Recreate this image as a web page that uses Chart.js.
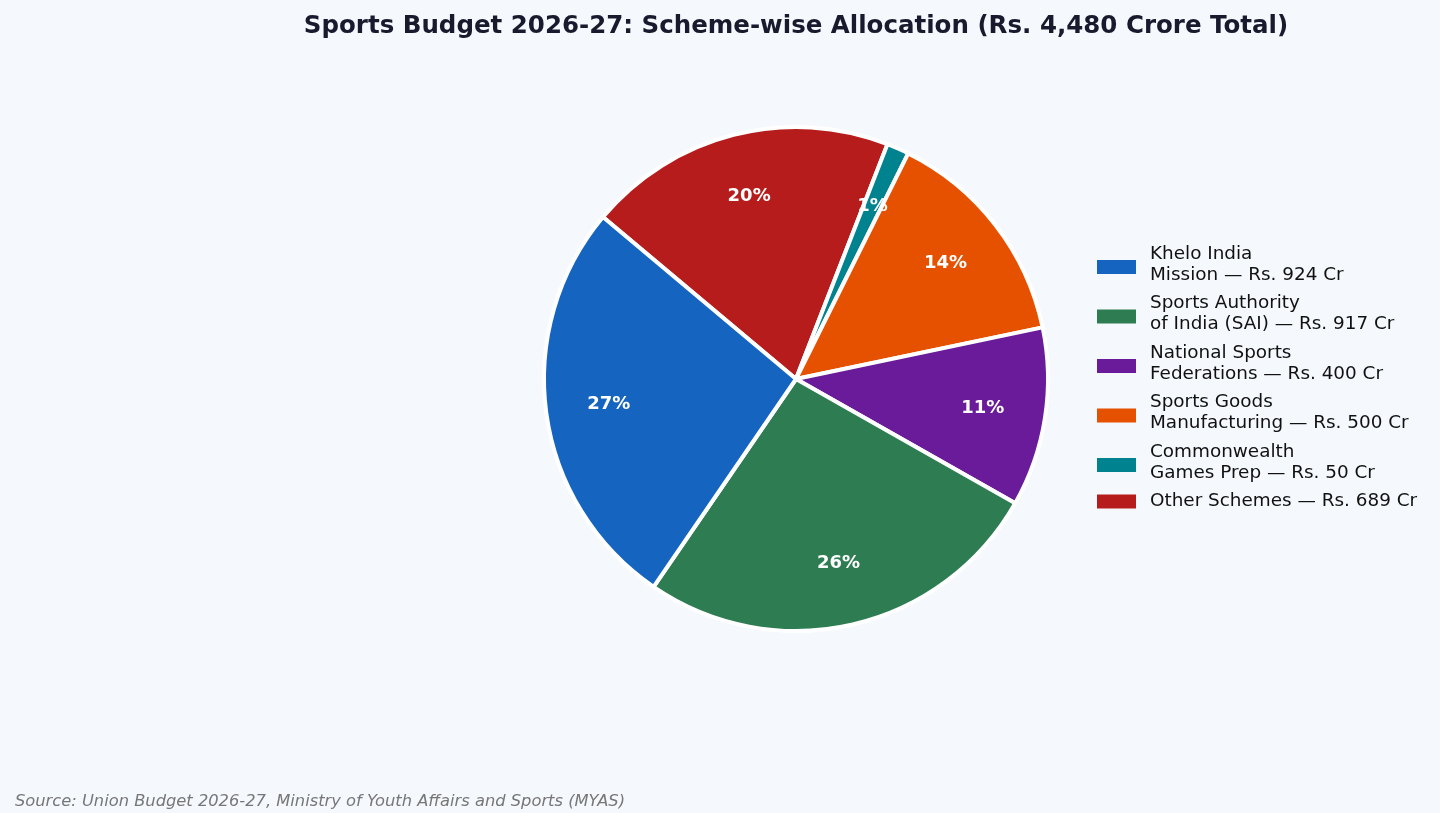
<!DOCTYPE html>
<html lang="en">
  <head>
    <meta charset="UTF-8" />
    <title>Sports Budget 2026-27</title>
    <script src="https://cdn.jsdelivr.net/npm/chart.js"></script>
    <style>
      html,
      body {
        margin: 0;
        padding: 0;
        width: 100%;
        height: 100%;
        overflow: hidden;
        background-color: #f5f8fc;
        font-family: "DejaVu Sans", sans-serif;
      }
      #wrap {
        position: relative;
        width: 1440px;
        height: 813px;
      }
      canvas#budgetPie {
        display: block;
      }
    </style>
  </head>
  <body>
    <div id="wrap"><canvas id="budgetPie"></canvas></div>
    <script>
      // data (legend order)
      const schemes = [
        "Khelo India\nMission",
        "Sports Authority\nof India (SAI)",
        "National Sports\nFederations",
        "Sports Goods\nManufacturing",
        "Commonwealth\nGames Prep",
        "Other Schemes",
      ];
      const amountsCr = [924, 917, 400, 500, 50, 689];
      const sliceColors = ["#1565C0", "#2E7D52", "#6A1B9A", "#E65100", "#00838F", "#B71C1C"];

      const titleText = "Sports Budget 2026-27: Scheme-wise Allocation (Rs. 4,480 Crore Total)";
      const sourceText = "Source: Union Budget 2026-27, Ministry of Youth Affairs and Sports (MYAS)";

      // Chart.js draws clockwise, the original goes counter-clockwise -> reverse
      const order = schemes.map((_, i) => i).reverse();
      const total = amountsCr.reduce((a, b) => a + b, 0);
      const FONT = '"DejaVu Sans", sans-serif';

      const overlay = {
        id: "overlay",
        afterDatasetsDraw(chart) {
          const ctx = chart.ctx;
          const meta = chart.getDatasetMeta(0);
          ctx.save();
          // percent labels
          ctx.fillStyle = "#ffffff";
          ctx.font = "bold 18px " + FONT;
          ctx.textAlign = "center";
          ctx.textBaseline = "middle";
          meta.data.forEach((arc, j) => {
            const p = arc.getProps(["x", "y", "startAngle", "endAngle", "outerRadius"], true);
            const mid = (p.startAngle + p.endAngle) / 2;
            const r = p.outerRadius * 0.75;
            const v = chart.data.datasets[0].data[j];
            ctx.fillText(Math.round((v / total) * 100) + "%", p.x + Math.cos(mid) * r, p.y + Math.sin(mid) * r);
          });

          // title
          ctx.textBaseline = "alphabetic";
          ctx.fillStyle = "#1a1a2e";
          ctx.font = "bold 24.5px " + FONT;
          ctx.fillText(titleText, 796, 33);

          // source
          ctx.fillStyle = "#777777";
          ctx.font = "italic 16.3px " + FONT;
          ctx.textAlign = "left";
          ctx.fillText(sourceText, 15, 806);

          // legend
          ctx.textBaseline = "middle";
          ctx.font = "18.4px " + FONT;
          let y = 254;
          const lineH = 21;
          schemes.forEach((name, i) => {
            const lines = (name + " — Rs. " + amountsCr[i] + " Cr").split("\n");
            const boxMid = y + ((lines.length - 1) * lineH) / 2 + (lines.length > 1 ? 2.5 : 0);
            ctx.fillStyle = sliceColors[i];
            ctx.fillRect(1097, boxMid - 7, 39, 14);
            ctx.fillStyle = "#111111";
            lines.forEach((ln, k) => ctx.fillText(ln, 1150, y + k * lineH));
            y += lines.length * lineH + 7.5;
          });
          ctx.restore();
        },
      };

      new Chart(document.getElementById("budgetPie"), {
        type: "pie",
        data: {
          labels: order.map((i) => schemes[i]),
          datasets: [
            {
              data: order.map((i) => amountsCr[i]),
              backgroundColor: order.map((i) => sliceColors[i]),
              borderColor: "#ffffff",
              borderWidth: 4,
            },
          ],
        },
        options: {
          responsive: true,
          maintainAspectRatio: false,
          animation: false,
          rotation: -50,
          radius: 252,
          layout: { padding: { left: 152, right: 0, top: 0, bottom: 55 } },
          plugins: {
            legend: { display: false },
            tooltip: { enabled: false },
          },
        },
        plugins: [overlay],
      });
    </script>
  </body>
</html>
